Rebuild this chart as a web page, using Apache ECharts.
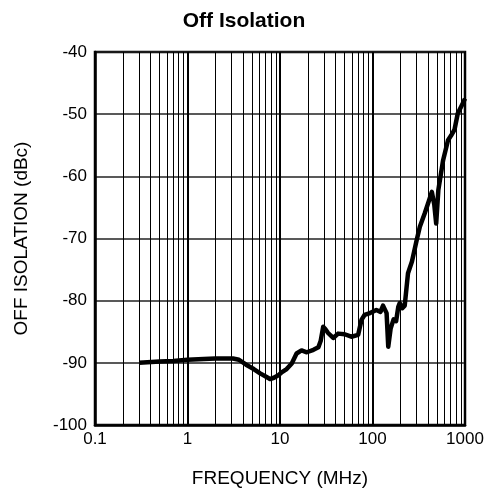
<!DOCTYPE html>
<html>
<head>
<meta charset="utf-8">
<script src="https://cdn.jsdelivr.net/npm/echarts@6/dist/echarts.min.js"></script>
<style>
  html, body { margin: 0; padding: 0; background: #fff; }
  #chart { width: 488px; height: 493px; }
</style>
</head>
<body>
<div id="chart"></div>
<script>
// Off-isolation sweep: frequency (MHz) vs isolation (dBc)
const freqMHz = [
  0.3, 0.5, 0.7, 1.0, 1.5, 2.0, 3.1, 3.6, 4.3, 5.2, 6.1, 7.0, 7.8, 8.6, 9.6, 10.5,
  11.8, 13.4, 15.1, 17.1, 19.5, 23.0, 26.0, 27.5, 29.3, 31.0, 33.1, 37.6, 42.5, 50,
  59, 70, 76, 82, 94, 110, 122, 130, 142, 148, 157, 169, 180, 190, 197, 210, 223,
  242, 267, 301, 325, 368, 400, 438, 465, 488, 515, 580, 655, 710, 770, 835, 945, 1000
];
const isolationDb = [
  -90.0, -89.8, -89.7, -89.5, -89.4, -89.3, -89.3, -89.5, -90.3, -91.0, -91.7, -92.2, -92.6, -92.4, -92.0, -91.5,
  -91.0, -90.1, -88.5, -88.0, -88.3, -87.9, -87.5, -86.5, -84.2, -84.6, -85.2, -86.0, -85.3, -85.4,
  -85.8, -85.5, -83.1, -82.3, -82.0, -81.5, -81.8, -80.8, -82.0, -87.4, -84.5, -83.0, -83.3, -81.0, -80.4, -81.2, -80.8,
  -75.6, -73.7, -70.2, -68.1, -65.9, -64.3, -62.5, -64.5, -67.6, -62.2, -57.4, -54.2, -53.4, -52.5, -49.9, -48.3, -47.5
];

// Log-axis decade labels and minor grid positions (2..9 within each decade)
const decadeTicks = [0.1, 1, 10, 100, 1000];
const minorGrid = [];
[0.1, 1, 10, 100].forEach(function (d) {
  for (let k = 2; k <= 9; k++) minorGrid.push(+(d * k).toPrecision(3));
});
const yTicks = [-100, -90, -80, -70, -60, -50, -40];

const font = '"Liberation Sans", Arial, Helvetica, sans-serif';
const chart = echarts.init(document.getElementById('chart'));

chart.setOption({
  animation: false,
  backgroundColor: '#fff',
  title: {
    text: 'Off Isolation',
    left: 'center',
    top: 6,
    textStyle: { fontFamily: font, fontSize: 21, fontWeight: 'bold', color: '#000' }
  },
  grid: {
    left: 95, right: 23, top: 52, bottom: 68,
    show: true, borderColor: '#000', borderWidth: 2.5, backgroundColor: 'transparent'
  },
  xAxis: {
    type: 'log',
    logBase: 10,
    min: 0.1,
    max: 1000,
    name: 'FREQUENCY (MHz)',
    nameLocation: 'middle',
    nameGap: 44,
    nameTextStyle: { fontFamily: font, fontSize: 19, color: '#000' },
    axisLine: { show: true, lineStyle: { color: '#000', width: 2.5 } },
    axisTick: { show: false },
    axisLabel: {
      fontFamily: font, fontSize: 17, color: '#000', margin: 6,
      formatter: function (v) {
        const hit = decadeTicks.find(function (t) { return Math.abs(t - v) / t < 1e-6; });
        return hit !== undefined ? String(hit) : '';
      }
    },
    splitLine: { show: true, lineStyle: { color: '#000', width: 2 } }
  },
  yAxis: {
    type: 'value',
    min: yTicks[0],
    max: yTicks[yTicks.length - 1],
    interval: 10,
    name: 'OFF ISOLATION (dBc)',
    nameLocation: 'middle',
    nameGap: 64,
    nameTextStyle: { fontFamily: font, fontSize: 19, color: '#000' },
    axisLine: { show: true, lineStyle: { color: '#000', width: 2.5 } },
    axisTick: { show: false },
    axisLabel: { fontFamily: font, fontSize: 17, color: '#000', margin: 8 },
    splitLine: { show: true, lineStyle: { color: '#222', width: 1.5 } }
  },
  series: [
    {
      // minor vertical grid lines
      type: 'line',
      data: [],
      silent: true,
      markLine: {
        silent: true,
        symbol: ['none', 'none'],
        label: { show: false },
        lineStyle: { color: '#000', width: 1, type: 'solid' },
        data: minorGrid.map(function (v) { return { xAxis: v }; })
      }
    },
    {
      type: 'line',
      data: freqMHz.map(function (f, i) { return [f, isolationDb[i]]; }),
      showSymbol: false,
      smooth: false,
      lineStyle: { color: '#000', width: 4.5, join: 'round' },
      z: 5
    }
  ]
});
</script>
</body>
</html>
